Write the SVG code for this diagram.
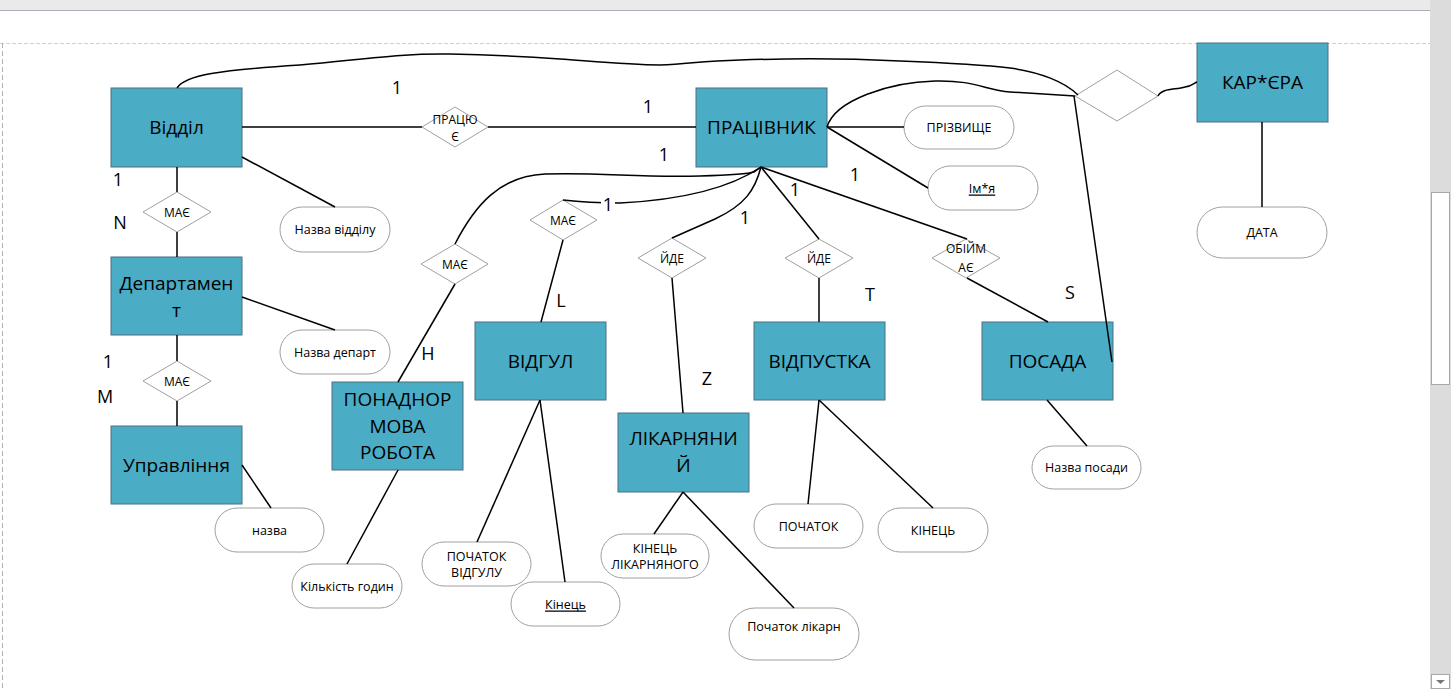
<svg xmlns="http://www.w3.org/2000/svg" width="1451" height="689" viewBox="0 0 1451 689">
<style>
.ent rect{fill:#4BACC6;stroke:#4F6F80;stroke-width:1}
.ent text{font-family:"Open Sans","Noto Sans",sans-serif;font-size:19px;fill:#000;text-anchor:middle;dominant-baseline:central}
.rel polygon{fill:#fff;stroke:#A0A0A0;stroke-width:1}
.rel text{font-family:"Open Sans","Noto Sans",sans-serif;font-size:12px;fill:#000;text-anchor:middle;dominant-baseline:central}
.att rect{fill:#fff;stroke:#A0A0A0;stroke-width:1}
.att text{font-family:"Open Sans","Noto Sans",sans-serif;font-size:12.5px;fill:#000;text-anchor:middle;dominant-baseline:central}
.u{text-decoration:underline}
#connectors path,#connectors line{fill:none;stroke:#000;stroke-width:1.5}
.card{font-family:"Open Sans","Noto Sans",sans-serif;font-size:18px;fill:#000;text-anchor:middle;dominant-baseline:central}
</style>
<rect x="0" y="0" width="1451" height="689" fill="#fff"/>
<rect x="0" y="0" width="1451" height="10" fill="#EAEAEA"/>
<line x1="0" y1="10.5" x2="1430" y2="10.5" stroke="#A8AEBA" stroke-width="1"/>
<line x1="0" y1="43.5" x2="1430" y2="43.5" stroke="#D0D0D0" stroke-width="1" stroke-dasharray="4,2"/>
<line x1="2.5" y1="43" x2="2.5" y2="689" stroke="#B0B0B0" stroke-width="1" stroke-dasharray="5,3"/>
<rect x="1430" y="0" width="21" height="689" fill="#DCDCDC"/>
<rect x="1431.5" y="192.5" width="18" height="192" fill="#fff" stroke="#A8A8A8"/>
<rect x="1431.5" y="674.5" width="18" height="14" fill="#fff" stroke="#A8A8A8"/>
<polygon points="1436,680 1445,680 1440.5,684" fill="#777"/>

<g id="rel-pracyuye" class="rel"><polygon points="422,127 455,107 488,127 455,147"/><text x="455" y="119">ПРАЦЮ</text><text x="455" y="136">Є</text></g>
<g id="rel-maye1" class="rel"><polygon points="143,212 177,192 211,212 177,232"/><text x="177" y="212">МАЄ</text></g>
<g id="rel-maye2" class="rel"><polygon points="143,381 177,361 211,381 177,401"/><text x="177" y="381">МАЄ</text></g>
<g id="rel-maye3" class="rel"><polygon points="421,264 455,244 488,264 455,284"/><text x="455" y="264">МАЄ</text></g>
<g id="rel-maye4" class="rel"><polygon points="530,220 563,200 597,220 563,240"/><text x="563" y="220">МАЄ</text></g>
<g id="rel-yde1" class="rel"><polygon points="638,258 672,238 706,258 672,278"/><text x="672" y="258">ЙДЕ</text></g>
<g id="rel-yde2" class="rel"><polygon points="785,258 819,239 853,258 819,278"/><text x="819" y="258">ЙДЕ</text></g>
<g id="rel-obiymaye" class="rel"><polygon points="932,258 966,239 1000,258 966,278"/><text x="966" y="248">ОБІЙМ</text><text x="966" y="267">АЄ</text></g>
<g id="rel-karyera" class="rel"><polygon points="1075,96 1117,70 1158,96 1117,121"/></g>

<g id="ent-viddil" class="ent"><rect x="111" y="88" width="131" height="79"/><text x="176.5" y="127">Відділ</text></g>
<g id="ent-department" class="ent"><rect x="111" y="257" width="131" height="78"/><text x="176.5" y="283">Департамен</text><text x="176.5" y="310">т</text></g>
<g id="ent-upravlinnya" class="ent"><rect x="111" y="426" width="131" height="78"/><text x="176.5" y="465">Управління</text></g>
<g id="ent-ponadnorm" class="ent"><rect x="332" y="382" width="131" height="88"/><text x="397.5" y="399">ПОНАДНОР</text><text x="397.5" y="426">МОВА</text><text x="397.5" y="452">РОБОТА</text></g>
<g id="ent-vidgul" class="ent"><rect x="475" y="322" width="131" height="78"/><text x="540.5" y="361">ВІДГУЛ</text></g>
<g id="ent-likarn" class="ent"><rect x="618" y="413" width="131" height="79"/><text x="683.5" y="438">ЛІКАРНЯНИ</text><text x="683.5" y="465">Й</text></g>
<g id="ent-vidpustka" class="ent"><rect x="754" y="322" width="131" height="78"/><text x="819.5" y="361">ВІДПУСТКА</text></g>
<g id="ent-posada" class="ent"><rect x="982" y="322" width="131" height="78"/><text x="1047.5" y="361">ПОСАДА</text></g>
<g id="ent-pratsivnyk" class="ent"><rect x="696" y="88" width="131" height="79"/><text x="761.5" y="127">ПРАЦІВНИК</text></g>
<g id="ent-karyera" class="ent"><rect x="1197" y="43" width="131" height="79"/><text x="1262.5" y="82">КАР*ЄРА</text></g>

<g id="att-nazva-viddilu" class="att"><rect x="280" y="207" width="110" height="45" rx="22.5"/><text x="335" y="229.5">Назва відділу</text></g>
<g id="att-nazva-depart" class="att"><rect x="280" y="330" width="110" height="44" rx="22"/><text x="335" y="352">Назва департ</text></g>
<g id="att-nazva" class="att"><rect x="215" y="508" width="109" height="44" rx="22"/><text x="269.5" y="530">назва</text></g>
<g id="att-kilkist" class="att"><rect x="292" y="564" width="110" height="44" rx="22"/><text x="347" y="586">Кількість годин</text></g>
<g id="att-pochatok-vidgulu" class="att"><rect x="422" y="542" width="109" height="44" rx="22"/><text x="476.5" y="556">ПОЧАТОК</text><text x="476.5" y="572">ВІДГУЛУ</text></g>
<g id="att-kinets" class="att"><rect x="511" y="582" width="109" height="44" rx="22"/><text x="565.5" y="604" class="u">Кінець</text></g>
<g id="att-kinets-likarn" class="att"><rect x="601" y="534" width="108" height="44" rx="22"/><text x="655" y="548">КІНЕЦЬ</text><text x="655" y="564">ЛІКАРНЯНОГО</text></g>
<g id="att-pochatok-likarn" class="att"><rect x="729" y="608" width="130" height="52" rx="26"/><text x="794" y="626">Початок лікарн</text></g>
<g id="att-pochatok" class="att"><rect x="754" y="504" width="109" height="44" rx="22"/><text x="808.5" y="526">ПОЧАТОК</text></g>
<g id="att-kinets2" class="att"><rect x="878" y="508" width="110" height="44" rx="22"/><text x="933" y="530">КІНЕЦЬ</text></g>
<g id="att-nazva-posady" class="att"><rect x="1032" y="446" width="109" height="43" rx="21.5"/><text x="1086.5" y="467.5">Назва посади</text></g>
<g id="att-prizvyshche" class="att"><rect x="904" y="106" width="110" height="43" rx="21.5"/><text x="959" y="127.5">ПРІЗВИЩЕ</text></g>
<g id="att-imya" class="att"><rect x="928" y="166" width="110" height="44" rx="22"/><text x="982" y="188" class="u">Ім*я</text></g>
<g id="att-data" class="att"><rect x="1197" y="207" width="130" height="51" rx="25.5"/><text x="1262" y="232">ДАТА</text></g>

<g id="connectors">
<line x1="242" y1="127" x2="422" y2="127"/>
<line x1="488" y1="127" x2="696" y2="127"/>
<line x1="177" y1="167" x2="177" y2="192"/>
<line x1="177" y1="232" x2="177" y2="257"/>
<line x1="177" y1="335" x2="177" y2="361"/>
<line x1="177" y1="401" x2="177" y2="426"/>
<line x1="242" y1="157" x2="335" y2="207"/>
<line x1="242" y1="297" x2="335" y2="330"/>
<line x1="242" y1="465" x2="271" y2="508"/>
<line x1="398" y1="470" x2="347" y2="564"/>
<line x1="455" y1="284" x2="398" y2="382"/>
<path d="M455,244 C475,205 500,176 545,174 C600,172 640,178 700,176 C730,175 748,174 754,172 L761,167"/>
<path d="M563,200 C580,202 590,203 620,203 C680,200 730,188 761,167"/>
<line x1="563" y1="240" x2="541" y2="322"/>
<path d="M672,238 L715,219 C745,205 755,190 761,167"/>
<line x1="672" y1="278" x2="683" y2="413"/>
<line x1="761" y1="167" x2="819" y2="239"/>
<line x1="819" y1="278" x2="819" y2="322"/>
<line x1="761" y1="167" x2="967" y2="239"/>
<line x1="967" y1="278" x2="1048" y2="322"/>
<line x1="827" y1="127" x2="904" y2="127"/>
<line x1="827" y1="127" x2="928" y2="188"/>
<path d="M827,127 C835,100 890,82 935,81 C975,80 985,90 1010,92 L1075,96"/>
<path d="M177,88 C185,75 220,70 300,65 C360,60 400,53 450,54 C500,55 530,57 560,59 C600,62 630,65 660,65 C690,64 700,61 740,60 C800,58 860,59 900,61 C950,63 985,65 1010,68 C1040,72 1065,82 1078,95"/>
<line x1="1074" y1="96" x2="1112" y2="362"/>
<path d="M1158,96 C1162,88 1175,90 1185,87 C1192,86 1194,83 1197,82"/>
<line x1="1262" y1="122" x2="1262" y2="207"/>
<line x1="540" y1="400" x2="477" y2="542"/>
<line x1="540" y1="400" x2="565" y2="582"/>
<line x1="683" y1="492" x2="654" y2="534"/>
<line x1="683" y1="492" x2="794" y2="608"/>
<line x1="819" y1="400" x2="808" y2="504"/>
<line x1="819" y1="400" x2="933" y2="508"/>
<line x1="1047" y1="400" x2="1087" y2="446"/>
</g>

<g id="cardinalities">
<text class="card" x="397" y="87">1</text>
<text class="card" x="648" y="106">1</text>
<text class="card" x="664" y="154">1</text>
<text class="card" x="118" y="179">1</text>
<text class="card" x="120" y="222">N</text>
<text class="card" x="108" y="361">1</text>
<text class="card" x="105" y="396">M</text>
<text class="card" x="428" y="353">H</text>
<rect x="601" y="194" width="14" height="20" fill="#fff"/>
<text class="card" x="608" y="204">1</text>
<text class="card" x="745" y="217">1</text>
<text class="card" x="795" y="189">1</text>
<text class="card" x="855" y="174">1</text>
<text class="card" x="561" y="300">L</text>
<text class="card" x="707" y="378">Z</text>
<text class="card" x="870" y="294">T</text>
<text class="card" x="1070" y="292">S</text>
</g>
</svg>
